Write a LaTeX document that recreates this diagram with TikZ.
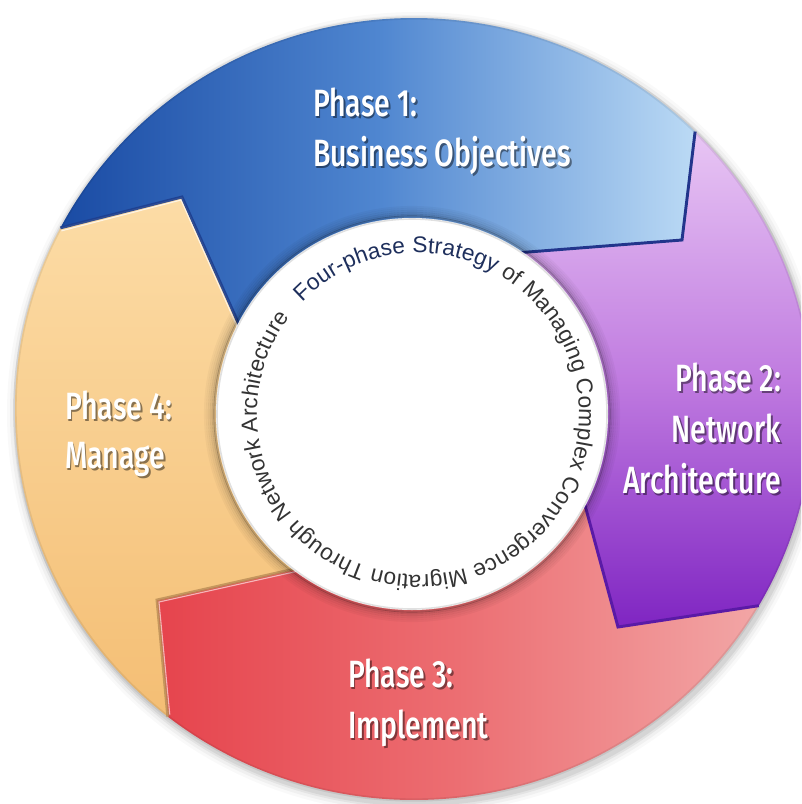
\documentclass[tikz,border=0pt]{standalone}
\usepackage{fontspec}
\usetikzlibrary{calc,decorations.text}
\newfontfamily\phasefont{Fira Sans}[UprightFont=* Medium, FakeStretch=0.75]
\newfontfamily\ringfont{Liberation Sans}
\definecolor{bluedark}{HTML}{1A4BA4}
\definecolor{bluemid}{HTML}{4F86D0}
\definecolor{bluelight}{HTML}{BBDAF5}
\definecolor{blueedge}{HTML}{22358C}
\definecolor{purplelight}{HTML}{E8C6F4}
\definecolor{purplemid}{HTML}{C07BE0}
\definecolor{purpledark}{HTML}{7F25C2}
\definecolor{purpleedge}{HTML}{5A1AA6}
\definecolor{redleft}{HTML}{E6444D}
\definecolor{redright}{HTML}{F2A6A6}
\definecolor{redmid}{HTML}{EC6E72}
\definecolor{rededge}{HTML}{B98C55}
\definecolor{orangelight}{HTML}{FCDCA6}
\definecolor{orangedark}{HTML}{F4BE74}
\definecolor{orangeedge}{HTML}{1D3F90}
\definecolor{ringnavy}{HTML}{1E2F5C}
\definecolor{ringgray}{HTML}{333333}
\tikzset{
  phasetext/.style={font=\phasefont\fontsize{28.5}{32}\selectfont, text=white, inner sep=0pt, outer sep=0pt},
  phaseshadow/.style={phasetext, text=black, opacity=0.45},
  chevron/.style={line width=2.2pt, line join=miter, line cap=butt},
  ringarc/.style={x radius=399, y radius=391}
}
% one label line: white text over a soft dark drop shadow
\newcommand\phaseline[4]{%
  \node[phaseshadow, anchor=#3] (#1s) at ($(#2)+(1.8,-2.2)$) {#4};
  \node[phasetext, anchor=#3] (#1) at (#2) {#4};}
\begin{document}
\begin{tikzpicture}[x=0.75pt, y=0.75pt]
  \useasboundingbox (0,-804) rectangle (801,0);
  \clip (0,-804) rectangle (801,0);
  \fill[white] (0,-804) rectangle (801,0);

  % centres: ring, white disk, circular caption
  \coordinate (O) at (414,-409);
  \coordinate (C) at (412,-414);
  \coordinate (T) at (418,-414);

  % segment boundaries: outer corner, chevron tip, inner end (hidden under the disk)
  \coordinate (O1) at ($(O)+(45.2:399 and 391)$);
  \coordinate (O2) at ($(O)+(-30.2:399 and 391)$);
  \coordinate (O3) at ($(O)+(-128.1:399 and 391)$);
  \coordinate (O4) at ($(O)+(152.4:399 and 391)$);
  \coordinate (T1) at (682,-240);
  \coordinate (P1) at (477,-256);
  \coordinate (T2) at (618,-627);
  \coordinate (P2) at (576,-472);
  \coordinate (T3) at (157,-600);
  \coordinate (P3) at (330,-561);
  \coordinate (T4) at (182,-197);
  \coordinate (P4) at (253.5,-357);

  % soft shadow under the ring
  \foreach \k/\o in {10/0.025, 7/0.035, 4/0.05, 2/0.06}
    \fill[black, opacity=\o] ($(O)+(2,-4)$) ellipse[x radius=399+\k, y radius=391+\k];

  % Phase 1 (blue)
  \shade[left color=bluedark, right color=bluelight, middle color=bluemid]
    (O4) arc[start angle=152.4, end angle=45.2, ringarc]
    -- (T1) -- (P1) -- (C) -- (P4) -- (T4) -- cycle;
  % Phase 2 (purple)
  \shade[top color=purplelight, bottom color=purpledark, middle color=purplemid]
    (O1) arc[start angle=45.2, end angle=-30.2, ringarc]
    -- (T2) -- (P2) -- (C) -- (P1) -- (T1) -- cycle;
  % Phase 3 (red)
  \shade[left color=redleft, right color=redright, middle color=redmid]
    (O2) arc[start angle=-30.2, end angle=-128.1, ringarc]
    -- (T3) -- (P3) -- (C) -- (P2) -- (T2) -- cycle;
  % Phase 4 (peach)
  \shade[top color=orangelight, bottom color=orangedark]
    (O3) arc[start angle=-128.1, end angle=-207.6, ringarc]
    -- (T4) -- (P4) -- (C) -- (P3) -- (T3) -- cycle;

  % darker rim along the outer edge
  \draw[black, opacity=0.07, line width=2.5pt] (O) ellipse[ringarc];

  % leading edges of the arrows
  \draw[chevron, blueedge] (O1) -- (T1) -- (P1);
  \draw[chevron, purpleedge] (O2) -- (T2) -- (P2);
  \draw[chevron, rededge, opacity=0.8] (O3) -- (T3) -- (P3);
  \draw[line width=0.8pt, white, opacity=0.6] ($(O3)+(2,2)$) -- ($(T3)+(2,-2)$) -- ($(P3)+(0,-3)$);
  \draw[chevron, orangeedge, opacity=0.9] (O4) -- (T4) -- (P4);
  \draw[line width=0.8pt, white, opacity=0.7] ($(O4)+(1,-3)$) -- ($(T4)+(-1,-3)$) -- ($(P4)+(-3,0)$);

  % white centre disk with its soft rim shadow
  \foreach \r/\o in {207/0.03, 205/0.05, 203/0.08, 201/0.12, 199/0.17, 197.5/0.22}
    \draw[black, opacity=\o, line width=1.6pt] (C) circle[radius=\r];
  \fill[white] (C) circle[radius=196];
  \draw[black, opacity=0.12, line width=1.2pt] (C) circle[radius=195];

  % circular caption
  \path[decorate, decoration={text along path, text align={fit to path},
    text={|\ringfont\fontsize{17}{17}\selectfont\color{ringnavy}|Four-phase Strategy |\ringfont\fontsize{17}{17}\selectfont\color{ringgray}|of Managing Complex Convergence Migration Through Network Architecture}}]
    ($(T)+(136:161)$) arc[start angle=136, end angle=-217, radius=161];

  % phase labels
  \phaseline{p1a}{313,-116}{base west}{Phase 1:}
  \phaseline{p1b}{313,-166}{base west}{Business Objectives}
  \phaseline{p2a}{781,-391}{base east}{Phase 2:}
  \phaseline{p2b}{781,-442}{base east}{Network}
  \phaseline{p2c}{781,-493}{base east}{Architecture}
  \phaseline{p3a}{348,-687}{base west}{Phase 3:}
  \phaseline{p3b}{348,-738}{base west}{Implement}
  \phaseline{p4a}{65,-419}{base west}{Phase 4:}
  \phaseline{p4b}{65,-468}{base west}{Manage}
\end{tikzpicture}
\end{document}
